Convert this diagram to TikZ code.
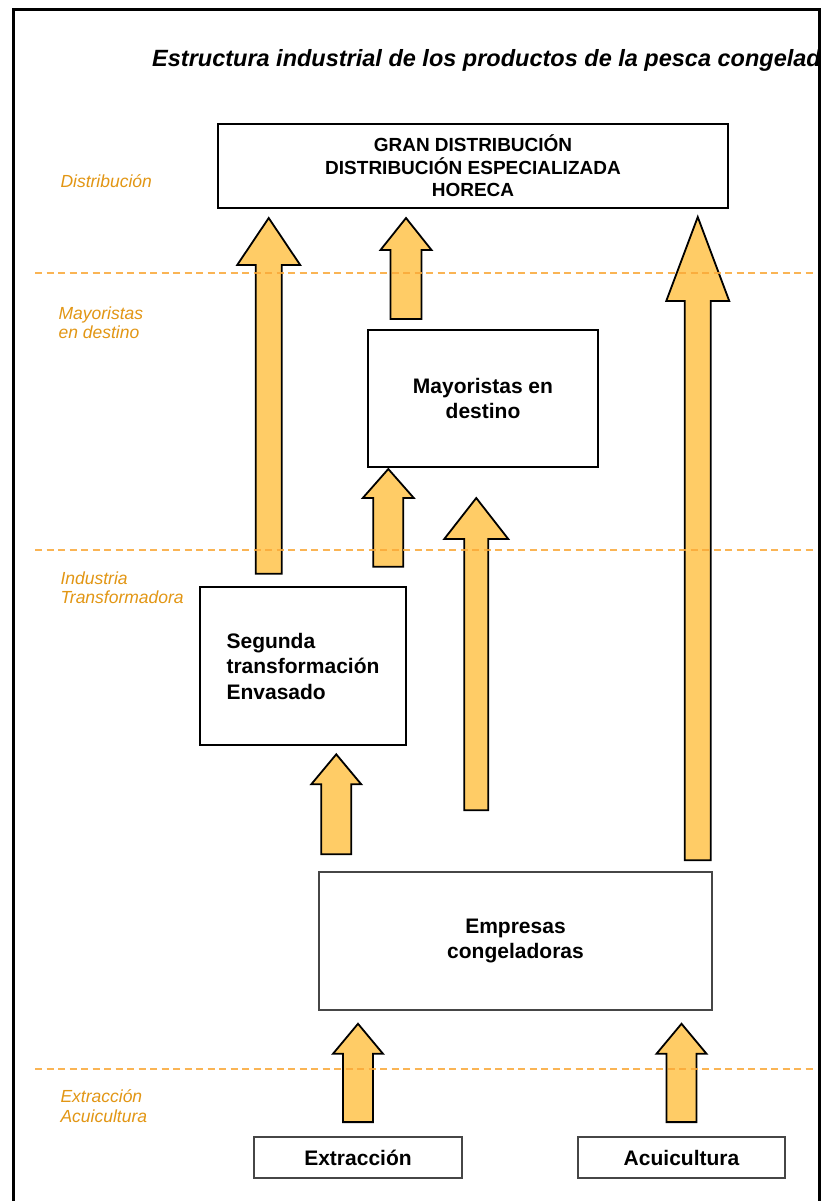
\documentclass[tikz,border=0pt]{standalone}
\usepackage{fontspec}
\setmainfont{Liberation Sans}
\usetikzlibrary{calc}

\definecolor{flechafill}{RGB}{255,204,102}
\definecolor{etiqueta}{RGB}{226,150,20}
\definecolor{separador}{RGB}{250,168,55}
\definecolor{bordegris}{RGB}{70,70,70}

\begin{document}
\begin{tikzpicture}[x=1pt, y=-1pt,
    caja/.style 2 args={draw=black, line width=2pt, minimum width=#1, minimum height=#2,
        inner sep=0pt, align=center, font=\fontsize{21}{25.5}\selectfont\bfseries},
    nivel/.style={anchor=west, align=left, text=etiqueta, font=\fontsize{17.5}{19.5}\selectfont\itshape},
    flecha/.style n args={3}{draw=black, line width=1.8pt, fill=flechafill, line join=miter,
        to path={let \p1=(\tikztostart), \p2=(\tikztotarget) in
            (\x1-#1,\y1) -- (\x1-#1,\y2-#3) -- (\x1-#2,\y2-#3) -- (\x1,\y2)
            -- (\x1+#2,\y2-#3) -- (\x1+#1,\y2-#3) -- (\x1+#1,\y1) -- cycle}}]

    % --- Page size and frame ---
    \useasboundingbox (0,0) rectangle (827,1201);
    \fill[white] (0,0) rectangle (827,1201);
    \draw[line width=3pt, line join=miter] (13,1201) -- (13,10) -- (819,10) -- (819,1201);

    % --- Title (cut by the frame) ---
    \begin{scope}
        \clip (15,12) rectangle (817,1201);
        \node[anchor=base west, inner sep=0pt, font=\fontsize{23.5}{27}\selectfont\bfseries\itshape]
            (titulo) at (152,67) {Estructura industrial de los productos de la pesca congelado};
    \end{scope}

    % --- Boxes ---
    \node[caja={510pt}{84pt}, font=\fontsize{19}{22.5}\selectfont\bfseries] (gran) at (473,166)
        {GRAN DISTRIBUCIÓN\\DISTRIBUCIÓN ESPECIALIZADA\\HORECA};
    \node[caja={230pt}{137pt}] (mayo) at (483,398.5) {Mayoristas en\\destino};
    \node[caja={206pt}{158pt}, line width=2.6pt, align=left] (segunda) at (303,666)
        {Segunda\\transformación\\Envasado};
    \node[caja={393pt}{138pt}, draw=bordegris, line width=1.5pt] (empresas) at (515.5,941)
        {Empresas\\congeladoras};
    \node[caja={208pt}{41pt}, draw=bordegris, line width=1.8pt] (extra) at (358,1157.5) {Extracción};
    \node[caja={207pt}{41pt}, draw=bordegris, line width=1.8pt] (acui) at (681.5,1157.5) {Acuicultura};

    % --- Level labels on the left ---
    \node[nivel] (nDist) at (57,181) {Distribución};
    \node[nivel] (nMayo) at (55,322.5) {Mayoristas\\en destino};
    \node[nivel] (nInd) at (57,587.5) {Industria\\Transformadora};
    \node[nivel] (nExt) at (57,1106) {Extracción\\Acuicultura};

    % --- Block arrows ---
    % from the raw material up to the freezers
    \draw[flecha={15pt}{25pt}{30pt}] ([yshift=14pt]extra.north) to ([yshift=-13pt]empresas.south);
    \draw[flecha={15pt}{25pt}{30pt}] ([yshift=14pt]acui.north) to ([yshift=-13pt]empresas.south);
    % from the freezers up
    \draw[flecha={15pt}{25pt}{30pt}] ([shift={(18pt,17pt)}]empresas.north west) to ([yshift=-8pt]segunda.south);
    \draw[flecha={12pt}{32pt}{41pt}] ([shift={(158pt,61pt)}]empresas.north west) to ([yshift=-30pt]mayo.south);
    \draw[flecha={13pt}{31.5pt}{84pt}] ([shift={(-15pt,11pt)}]empresas.north east) to ([yshift=-8pt]gran.south);
    % from the processing industry up
    \draw[flecha={15pt}{25.5pt}{29pt}] ([shift={(-19pt,19pt)}]segunda.north east) to ([yshift=-1pt]mayo.south);
    \draw[flecha={13pt}{31.5pt}{47pt}] ([shift={(70pt,12pt)}]segunda.north west) to ([yshift=-9pt]gran.south);
    % from the wholesalers up
    \draw[flecha={15.5pt}{25.5pt}{32pt}] ([shift={(39pt,10pt)}]mayo.north west) to ([yshift=-9pt]gran.south);

    % --- Dashed level separators ---
    \foreach \ysep in {273,550,1069}
        \draw[separador, line width=2pt, dash pattern=on 7pt off 4.5pt, opacity=0.85] (35,\ysep) -- (817,\ysep);

\end{tikzpicture}
\end{document}
